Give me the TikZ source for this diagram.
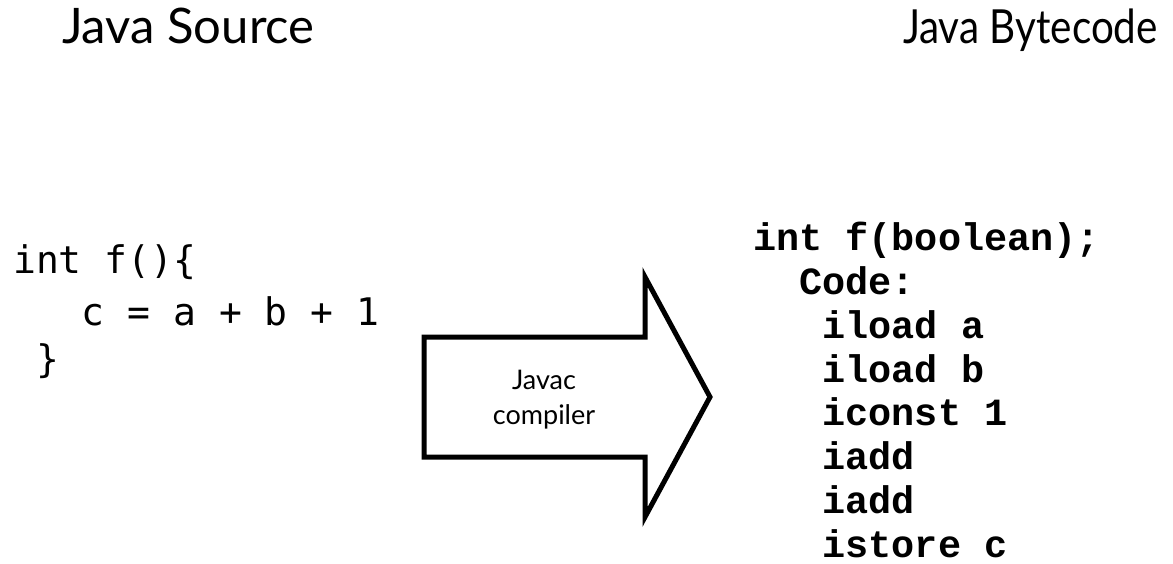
\documentclass[tikz,border=0pt]{standalone}
\usepackage{fontspec}
\usepackage{graphicx}
\setmainfont{Lato}
\newfontfamily\srcmono{DejaVu Sans Mono}
\newfontfamily\bcmono{Liberation Mono}
\begin{document}
\begin{tikzpicture}[x=1pt,y=-1pt,
  title/.style={inner sep=0pt,font=\fontsize{49}{52}\selectfont},
  srcline/.style={anchor=base west,inner sep=0pt,font=\srcmono\fontsize{38}{40}\selectfont},
  bcline/.style={anchor=base west,inner sep=0pt,font=\bcmono\bfseries\fontsize{38.5}{40}\selectfont},
  bigarrow/.style={draw=black,line width=5pt,line join=miter,fill=white}]
\useasboundingbox (0,0) rectangle (1173,563);

% headings
\node[title,anchor=base west] (hsrc) at (62,43) {Java Source};
\node[title,anchor=base east] (hbc) at (1158,43) {\scalebox{0.86}[1]{\fontsize{47}{52}\selectfont Java Bytecode}};

% source code
\node[srcline] (s1) at (13,273) {int f()\{};
\node[srcline] (s2) at (13,325) {\ \ \ c = a + b + 1};
\node[srcline] (s3) at (13,372) {\ \}};

% compiler arrow
\draw[bigarrow] (424,337) -- (645,337) -- (645,277) -- (710,397)
  -- (645,517) -- (645,457) -- (424,457) -- cycle;
\node[align=center,inner sep=0pt,font=\fontsize{27}{35}\selectfont] (javac) at (544,400) {Javac\\compiler};

% bytecode
\node[bcline] (b1) at (753,250) {int f(boolean);};
\node[bcline] (b2) at (753,294) {\ \ Code:};
\node[bcline] (b3) at (753,338) {\ \ \ iload a};
\node[bcline] (b4) at (753,382) {\ \ \ iload b};
\node[bcline] (b5) at (753,425) {\ \ \ iconst 1};
\node[bcline] (b6) at (753,469) {\ \ \ iadd};
\node[bcline] (b7) at (753,513) {\ \ \ iadd};
\node[bcline] (b8) at (753,557) {\ \ \ istore c};
\end{tikzpicture}
\end{document}
